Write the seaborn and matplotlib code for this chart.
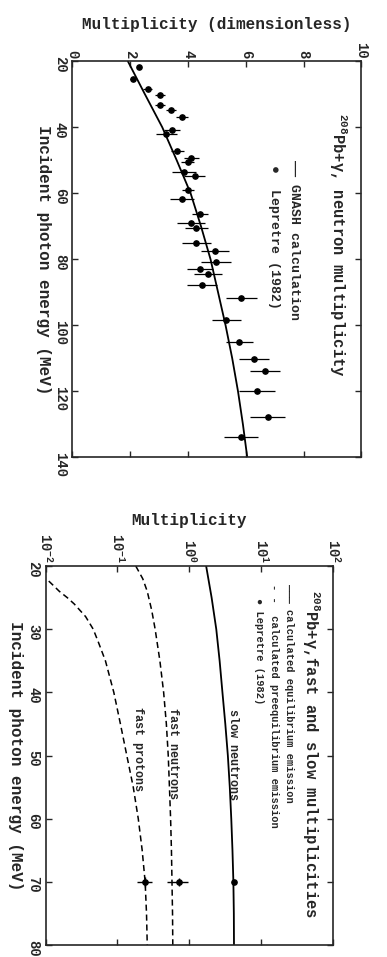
import numpy as np
import pandas as pd
import matplotlib
matplotlib.use("Agg")
import matplotlib.pyplot as plt
from matplotlib.ticker import NullLocator
import seaborn as sns

# ---- top panel: 208Pb + gamma, neutron multiplicity ----
gnash_energy = [20, 30, 40, 50, 60, 70, 80, 90, 100, 110, 120, 130, 140]
gnash_mult = [1.92, 2.51, 3.11, 3.61, 4.09, 4.45, 4.78, 5.04, 5.30, 5.53, 5.73, 5.90, 6.05]

lep_energy = [21.8, 25.3, 28.4, 30.3, 33.4, 34.9, 36.8, 40.7, 41.9, 47.3, 49.4, 50.6,
              53.6, 54.8, 59.1, 61.8, 66.4, 69.1, 70.5, 75.2, 77.6, 80.7, 82.8, 84.4,
              87.9, 91.8, 98.3, 105.0, 110.2, 113.8, 120.0, 127.6, 133.8]
lep_mult = [2.30, 2.09, 2.60, 3.04, 3.02, 3.41, 3.79, 3.44, 3.25, 3.63, 4.12, 3.99,
            3.86, 4.23, 4.00, 3.79, 4.42, 4.11, 4.29, 4.28, 4.94, 4.96, 4.42, 4.69,
            4.50, 5.85, 5.33, 5.78, 6.27, 6.66, 6.38, 6.76, 5.83]
lep_err = [0.0, 0.08, 0.15, 0.17, 0.17, 0.17, 0.22, 0.28, 0.37, 0.23, 0.26, 0.23,
           0.40, 0.37, 0.20, 0.43, 0.27, 0.49, 0.40, 0.50, 0.49, 0.52, 0.44, 0.49,
           0.52, 0.52, 0.50, 0.46, 0.52, 0.52, 0.62, 0.60, 0.60]

# ---- bottom panel: fast and slow multiplicities ----
calc_energy = [20, 25, 30, 35, 40, 45, 50, 55, 60, 65, 70, 75, 80]
slow_neutrons = [1.72, 2.05, 2.38, 2.65, 2.90, 3.18, 3.45, 3.67, 3.85, 4.00, 4.12, 4.18, 4.20]
fastn_energy = [20, 22, 24, 27, 30, 35, 40, 45, 50, 55, 60, 65, 70, 75, 80]
fast_neutrons = [0.18, 0.225, 0.26, 0.30, 0.335, 0.39, 0.44, 0.48, 0.51, 0.53, 0.55,
                 0.565, 0.575, 0.585, 0.59]
fastp_energy = [21.5, 22, 23, 24, 25, 26, 28, 30, 32, 35, 40, 45, 50, 55, 60, 65, 70, 75, 80]
fast_protons = [0.0085, 0.0102, 0.0126, 0.0155, 0.020, 0.025, 0.036, 0.046, 0.054, 0.068,
                0.089, 0.11, 0.135, 0.166, 0.195, 0.221, 0.243, 0.254, 0.26]

pt_energy = [70, 70, 70]
pt_mult = [4.2, 0.71, 0.245]
pt_lo = [0.0, 0.22, 0.06]
pt_hi = [0.0, 0.26, 0.06]
pt_eerr = [0.0, 0.6, 0.8]

gnash_df = pd.DataFrame({"energy": gnash_energy, "mult": gnash_mult})
slow_df = pd.DataFrame({"energy": calc_energy, "mult": slow_neutrons})
fastn_df = pd.DataFrame({"energy": fastn_energy, "mult": fast_neutrons})
fastp_df = pd.DataFrame({"energy": fastp_energy, "mult": fast_protons})

sns.set_style("ticks")
plt.rcParams["font.family"] = ["Liberation Mono", "DejaVu Sans Mono"]
plt.rcParams["font.weight"] = "bold"
plt.rcParams["axes.labelweight"] = "bold"
plt.rcParams["mathtext.default"] = "regular"
plt.rcParams["axes.linewidth"] = 1.2

fig = plt.figure(figsize=(3.87, 9.57), dpi=100)
ax1 = fig.add_axes([0.187, 0.522, 0.747, 0.414])
ax2 = fig.add_axes([0.118, 0.0125, 0.742, 0.396])

# top panel
sns.lineplot(data=gnash_df, x="mult", y="energy", orient="y", color="black",
             lw=1.3, ax=ax1)
ax1.errorbar(lep_mult, lep_energy, xerr=lep_err, fmt="o", ms=3.8, color="black",
             elinewidth=0.9, capsize=0)
ax1.set_xlim(0, 10)
ax1.set_ylim(140, 20)
ax1.set_xticks(range(0, 11, 2))
ax1.set_yticks(range(20, 141, 20))

ax1.text(9.2, 35.6, r"$^{208}$Pb+γ, neutron multiplicity", rotation=-90, ha="center",
         va="top", fontsize=11.2, fontweight="bold")
ax1.text(7.67, 50, "—— GNASH calculation", rotation=-90, ha="center", va="top",
         fontsize=9.5, fontweight="bold")
ax1.text(6.98, 51.5, "●  Lepretre (1982)", rotation=-90, ha="center", va="top",
         fontsize=9.5, fontweight="bold")

ax1.xaxis.set_label_position("top")
ax1.set_xlabel("Multiplicity (dimensionless)", fontsize=11.5, labelpad=9)
ax1.set_ylabel("Incident photon energy (MeV)", fontsize=11.5, rotation=-90,
               va="top", labelpad=1.5)

# bottom panel
sns.lineplot(data=slow_df, x="mult", y="energy", orient="y", color="black",
             lw=1.3, ax=ax2)
sns.lineplot(data=fastn_df, x="mult", y="energy", orient="y", color="black",
             lw=1.1, ls=(0, (4, 2.5)), ax=ax2)
sns.lineplot(data=fastp_df, x="mult", y="energy", orient="y", color="black",
             lw=1.1, ls=(0, (4, 2.5)), ax=ax2)
ax2.errorbar(pt_mult, pt_energy, xerr=[pt_lo, pt_hi], yerr=pt_eerr, fmt="o",
             ms=3.8, color="black", elinewidth=1.0, capsize=0)
ax2.set_xscale("log")
ax2.set_xlim(1e-2, 1e2)
ax2.set_ylim(80, 20)
ax2.set_xticks([1e-2, 1e-1, 1e0, 1e1, 1e2])
ax2.xaxis.set_minor_locator(NullLocator())
ax2.set_yticks(range(20, 81, 10))

ax2.text(50, 23.8, r"$^{208}$Pb+γ,fast and slow multiplicities", rotation=-90,
         ha="center", va="top", fontsize=11.2, fontweight="bold")
ax2.text(24.6, 22.8, "——— calculated equilibrium emission", rotation=-90,
         ha="center", va="top", fontsize=7.5, fontweight="bold")
ax2.text(15.3, 22.8, "- -  calculated preequilibrium emission", rotation=-90,
         ha="center", va="top", fontsize=7.5, fontweight="bold")
ax2.text(9.4, 25.0, "● Lepretre (1982)", rotation=-90, ha="center", va="top",
         fontsize=7.5, fontweight="bold")
ax2.text(4.13, 42.7, "slow neutrons", rotation=-90, ha="center", va="top",
         fontsize=8.5, fontweight="bold")
ax2.text(0.60, 42.4, "fast neutrons", rotation=-90, ha="center", va="top",
         fontsize=8.5, fontweight="bold")
ax2.text(0.195, 42.3, "fast protons", rotation=-90, ha="center", va="top",
         fontsize=8.5, fontweight="bold")

ax2.xaxis.set_label_position("top")
ax2.set_xlabel("Multiplicity", fontsize=11.5, labelpad=6)
ax2.set_ylabel("Incident photon energy (MeV)", fontsize=11.5, rotation=-90,
               va="top", labelpad=2)

for ax in (ax1, ax2):
    ax.tick_params(direction="in", top=True, bottom=True, left=True, right=True,
                   labeltop=True, labelbottom=False, length=4, width=1,
                   labelsize=10)
    ax.tick_params(axis="x", labelrotation=-90, pad=2)
    ax.tick_params(axis="y", labelrotation=-90, pad=4)
    for lab in ax.get_xticklabels() + ax.get_yticklabels():
        lab.set_fontweight("bold")
    for s in ax.spines.values():
        s.set_visible(True)

fig.savefig("out.png", dpi=100)
